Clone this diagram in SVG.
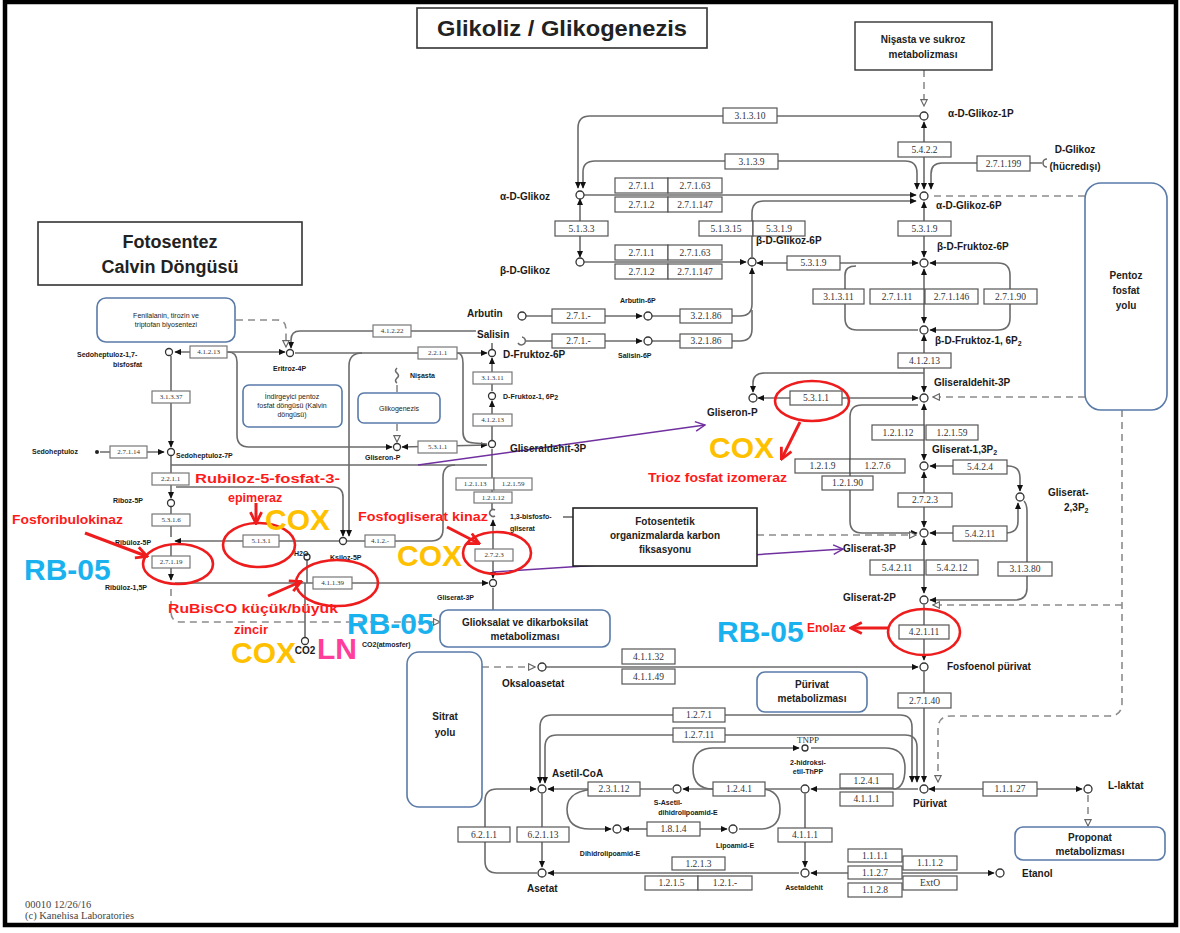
<svg xmlns="http://www.w3.org/2000/svg" width="1180" height="933" viewBox="0 0 1180 933">
<defs>
<style>
.ln{fill:none;stroke:#6b6b6b;stroke-width:1.6}
.dl{fill:none;stroke:#8c8c8c;stroke-width:1.6;stroke-dasharray:7 5}
.ez rect{fill:#fff;stroke:#555;stroke-width:1.2}
.ez text{font-family:"Liberation Serif",serif;font-size:9.5px;fill:#333;text-anchor:middle;dominant-baseline:central}
.ez.s rect{stroke:#777}
.ez.s text{font-size:7px}
.nd{fill:#fff;stroke:#333;stroke-width:1.3}
.lb{font-family:"Liberation Sans",Arial,sans-serif;font-weight:bold;font-size:10px;fill:#1a1a1a}
.sm{font-size:7px}
.bx{fill:#fff;stroke:#5a7aa8;stroke-width:1.6}
.bt{font-family:"Liberation Sans",Arial,sans-serif;font-weight:bold;font-size:10px;fill:#222;text-anchor:middle}
.bt.s{font-size:7px;font-weight:normal}
.red{font-family:"Liberation Sans",Arial,sans-serif;font-weight:bold;fill:#ff1a1a}
.big{font-family:"Liberation Sans",Arial,sans-serif;font-weight:bold;font-size:30px}
.rb{fill:#1ab2ee}
.cx{fill:#ffc000}
.pk{fill:#ff3d9a}
.ell{fill:none;stroke:#ee1c1c;stroke-width:2.6}
.ra{fill:none;stroke:#ee1c1c;stroke-width:3}
.pa{fill:none;stroke:#7030a0;stroke-width:1.4}
</style>
<marker id="a" viewBox="0 0 10 10" refX="9" refY="5" markerWidth="7" markerHeight="7" markerUnits="userSpaceOnUse" orient="auto-start-reverse"><path d="M0,0.5 L10,5 L0,9.5 z" fill="#111"/></marker>
<marker id="o" viewBox="0 0 10 10" refX="9" refY="5" markerWidth="8" markerHeight="8" markerUnits="userSpaceOnUse" orient="auto-start-reverse"><path d="M1,1 L9,5 L1,9 z" fill="#fff" stroke="#666" stroke-width="1.4"/></marker>
<marker id="r" viewBox="0 0 10 10" refX="8" refY="5" markerWidth="14" markerHeight="14" markerUnits="userSpaceOnUse" orient="auto"><path d="M1,1 L9,5 L1,9" fill="none" stroke="#ee1c1c" stroke-width="2"/></marker>
<marker id="p" viewBox="0 0 10 10" refX="9" refY="5" markerWidth="12" markerHeight="12" markerUnits="userSpaceOnUse" orient="auto"><path d="M1,1 L9,5 L1,9" fill="none" stroke="#7030a0" stroke-width="1.2"/></marker>
</defs>
<rect width="1180" height="933" fill="#fff"/>
<rect x="5" y="2" width="1171" height="923" fill="none" stroke="#000" stroke-width="4.5"/>

<!-- title boxes -->
<g id="title"><rect x="417" y="8" width="290" height="40" fill="#fff" stroke="#333" stroke-width="1.6"/><text x="562" y="36" font-family="Liberation Sans, Arial, sans-serif" font-weight="bold" font-size="22" text-anchor="middle" fill="#222" textLength="250" lengthAdjust="spacingAndGlyphs">Glikoliz / Glikogenezis</text></g>
<g id="fotosentez"><rect x="38" y="222" width="264" height="63" fill="#fff" stroke="#333" stroke-width="1.6"/><text x="170" y="248" font-family="Liberation Sans, Arial, sans-serif" font-weight="bold" font-size="18" text-anchor="middle" fill="#222">Fotosentez</text><text x="170" y="273" font-family="Liberation Sans, Arial, sans-serif" font-weight="bold" font-size="18" text-anchor="middle" fill="#222">Calvin Döngüsü</text></g>

<!-- connectors -->
<g id="connectors">
<path class="dl" d="M924,70 L924,106" marker-end="url(#o)"/>
<path class="ln" d="M920,116 L590,116 Q578,116 578,128 L578,188" marker-end="url(#a)"/>
<path class="ln" d="M583,188 L583,172 Q583,161 595,161 L905,161 Q917,161 917,173 L917,189" marker-start="url(#a)" marker-end="url(#a)"/>
<path class="ln" d="M584,195 L916,195" marker-end="url(#a)"/>
<path class="ln" d="M752,257 L752,213 Q752,201 764,201 L916,201" marker-end="url(#a)"/>
<path class="ln" d="M580,199 L580,257" marker-start="url(#a)" marker-end="url(#a)"/>
<path class="ln" d="M584,262 L746,262" marker-end="url(#a)"/>
<path class="ln" d="M757,263 L918,263" marker-start="url(#a)" marker-end="url(#a)"/>
<path class="ln" d="M526,316 L642,316" marker-end="url(#a)"/>
<path class="ln" d="M652,316 L740,316 Q752,316 752,304 L752,268" marker-end="url(#a)"/>
<path class="ln" d="M525,341 L642,341" marker-end="url(#a)"/>
<path class="ln" d="M652,341 L740,341 Q752,341 752,329 L752,310"/>
<path class="ln" d="M1042,163 L942,163 Q931,163 931,174 L931,189" marker-end="url(#a)"/>
<path class="ln" d="M1047,159 A4,4 0 1 0 1047,167"/>
<path class="ln" d="M924,122 L924,189" marker-start="url(#a)" marker-end="url(#a)"/>
<path class="ln" d="M924,202 L924,257" marker-start="url(#a)" marker-end="url(#a)"/>
<path class="ln" d="M924,269 L924,323" marker-start="url(#a)" marker-end="url(#a)"/>
<path class="ln" d="M930,263 L998,263 Q1010,263 1010,275 L1010,318 Q1010,330 998,330 L930,330" marker-start="url(#a)" marker-end="url(#a)"/>
<path class="ln" d="M918,330 L857,330 Q845,330 845,318 L845,275 Q845,266 856,266"/>
<path class="ln" d="M924,335 L924,392" marker-start="url(#a)" marker-end="url(#a)"/>
<path class="ln" d="M924,373 L765,373 Q753,373 753,383 L753,392" marker-end="url(#a)"/>
<path class="ln" d="M758,398 L918,398" marker-start="url(#a)" marker-end="url(#a)"/>
<path class="ln" d="M924,404 L924,460" marker-start="url(#a)" marker-end="url(#a)"/>
<path class="ln" d="M918,405 L862,405 Q850,405 850,417 L850,521 Q850,533 862,533 L917,533" marker-end="url(#a)"/>
<path class="ln" d="M924,472 L924,527" marker-start="url(#a)" marker-end="url(#a)"/>
<path class="ln" d="M930,466 L1008,466 Q1020,466 1020,478 L1020,491" marker-start="url(#a)" marker-end="url(#a)"/>
<path class="ln" d="M930,533 L1006,533 Q1018,533 1018,521 L1018,503" marker-start="url(#a)" marker-end="url(#a)"/>
<path class="ln" d="M930,600 L1015,600 Q1027,600 1027,588 L1027,512 Q1027,504 1024,501" marker-start="url(#a)"/>
<path class="ln" d="M924,539 L924,593" marker-start="url(#a)" marker-end="url(#a)"/>
<path class="ln" d="M924,605 L924,660" marker-end="url(#a)"/>
<path class="ln" d="M924,672 L924,782" marker-end="url(#a)"/>
<path class="dl" d="M1085,397 L933,397" marker-end="url(#o)"/>
<path class="dl" d="M1085,196 L934,196"/>
<path class="dl" d="M1122,410 L1122,703 Q1122,716 1109,716 L951,716 Q938,716 938,729 L938,782" marker-end="url(#o)"/>
<path class="dl" d="M1122,605 L933,605" marker-end="url(#o)"/>
<path class="dl" d="M757,535 L916,535" marker-end="url(#o)"/>
<path class="dl" d="M482,667 L535,667" marker-end="url(#o)"/>
<path class="ln" d="M546,667 L918,667" marker-end="url(#a)"/>
<path class="ln" d="M540,783 L540,727 Q540,715 552,715 L900,715 Q912,715 912,727 L912,782" marker-start="url(#a)" marker-end="url(#a)"/>
<path class="ln" d="M545,783 L545,747 Q545,735 557,735 L905,735 Q917,735 917,747 L917,782" marker-start="url(#a)" marker-end="url(#a)"/>
<path class="ln" d="M918,789 L811,789" marker-end="url(#a)"/>
<path class="ln" d="M800,789 L683,789" marker-end="url(#a)"/>
<path class="ln" d="M672,789 L548,789" marker-end="url(#a)"/>
<path class="ln" d="M765,789 L713,789 Q693,789 693,769 Q693,748 713,748 L799,748" marker-end="url(#a)"/>
<path class="ln" d="M811,748 L885,748 Q905,748 905,768 Q905,789 893,789"/>
<path class="ln" d="M600,789 Q567,789 567,809 Q567,829 590,829 L611,829" marker-end="url(#a)"/>
<path class="ln" d="M647,829 L623,829" marker-end="url(#a)"/>
<path class="ln" d="M700,829 L727,829" marker-end="url(#a)"/>
<path class="ln" d="M739,829 L760,829 Q780,829 780,809 Q780,789 760,789"/>
<path class="ln" d="M537,873 L497,873 Q485,873 485,861 L485,801 Q485,789 497,789 L536,789" marker-end="url(#a)"/>
<path class="ln" d="M542,794 L542,867" marker-end="url(#a)"/>
<path class="ln" d="M799,873 L548,873" marker-end="url(#a)"/>
<path class="ln" d="M805,794 L805,867" marker-end="url(#a)"/>
<path class="ln" d="M811,873 L994,873" marker-start="url(#a)" marker-end="url(#a)"/>
<path class="ln" d="M929,789 L1082,789" marker-start="url(#a)" marker-end="url(#a)"/>
<path class="dl" d="M1088,795 L1088,826" marker-end="url(#o)"/>
<!-- middle -->
<path class="ln" d="M492,440 L492,401" marker-end="url(#a)"/>
<path class="ln" d="M492,391 L492,358" marker-end="url(#a)"/>
<path class="ln" d="M492,343 L492,349"/>
<path class="ln" d="M492,449 L492,509"/>
<path class="ln" d="M493,578 L493,520" marker-start="url(#a)" marker-end="url(#a)"/>
<path class="ln" d="M493,588 L493,610"/>
<path class="ln" d="M175,583 L488,583" marker-end="url(#a)"/>
<path class="ln" d="M175,541 L339,541" marker-start="url(#a)"/>
<path class="ln" d="M347,541 L431,541 Q443,541 443,529 L443,477 Q443,465 455,465"/>
<path class="ln" d="M171,465 L487,465"/>
<path class="ln" d="M176,487 L333,487 Q343,487 343,497 L343,536" marker-end="url(#a)"/>
<path class="ln" d="M362,353 Q349,353 349,366 L349,536" marker-end="url(#a)"/>
<path class="ln" d="M228,352 L175,352" marker-end="url(#a)"/>
<path class="ln" d="M228,352 L285,352" marker-end="url(#a)"/>
<path class="ln" d="M295,353 L487,353" marker-end="url(#a)"/>
<path class="ln" d="M228,352 Q237,352 237,362 L237,435 Q237,447 249,447 L392,447" marker-end="url(#a)"/>
<path class="ln" d="M402,447 L487,445" marker-start="url(#a)" marker-end="url(#a)"/>
<path class="ln" d="M457,353 Q463,353 463,363 L463,432 Q463,443 474,443 L487,444"/>
<path class="ln" d="M476,331 L300,331 Q291,331 291,340 L291,348" marker-end="url(#a)"/>
<path class="dl" d="M236,320 L277,320 Q286,320 286,329 L286,347" marker-end="url(#o)"/>
<path class="ln" d="M397,368 q-3,3 0,5 q3,3 0,5 q-3,3 0,5"/>
<path class="dl" d="M397,385 L397,393"/>
<path class="dl" d="M397,424 L397,442" marker-end="url(#o)"/>
<path class="ln" d="M171,356 L171,447" marker-end="url(#a)"/>
<path class="ln" d="M100,452 L164,452" marker-end="url(#a)"/>
<path class="ln" d="M171,456 L171,498" marker-end="url(#a)"/>
<path class="ln" d="M171,507 L171,537"/>
<path class="ln" d="M171,545 L171,580" marker-end="url(#a)"/>
<path class="dl" d="M171,589 L171,612 Q171,622 181,622 L440,622" marker-end="url(#o)"/>
<path class="ln" d="M305,637 L305,583"/>
<path class="ln" d="M307,560 L307,583"/>
<path class="ln" d="M563,517 L573,517"/>
<path class="pa" d="M418,465 L705,425" marker-end="url(#p)"/>
<path class="pa" d="M493,572 L843,549" marker-end="url(#p)"/>
</g>

<!-- map boxes -->
<g id="nisasta"><rect x="855" y="22" width="137" height="48" fill="#fff" stroke="#333" stroke-width="1.4"/><text class="bt" x="923" y="43">Nişasta  ve sukroz</text><text class="bt" x="923" y="58">metabolizması</text></g>
<g id="pentoz"><rect class="bx" x="1085" y="183" width="82" height="227" rx="16"/><text class="bt" x="1126" y="279">Pentoz</text><text class="bt" x="1126" y="294">fosfat</text><text class="bt" x="1126" y="309">yolu</text></g>
<g id="fenilalanin"><rect class="bx" x="97" y="298" width="138" height="44" rx="9"/><text class="bt s" x="166" y="318">Fenilalanin, tirozin ve</text><text class="bt s" x="166" y="327">triptofan biyosentezi</text></g>
<g id="indirgeyici"><rect class="bx" x="243" y="385" width="99" height="42" rx="6"/><text class="bt s" x="292" y="399">İndirgeyici pentoz</text><text class="bt s" x="292" y="408">fosfat döngüsü (Kalvin</text><text class="bt s" x="292" y="417">döngüsü)</text></g>
<g id="glikogenezis"><rect class="bx" x="358" y="393" width="82" height="30" rx="6"/><text class="bt s" x="399" y="411">Glikogenezis</text></g>
<g id="fotosentetik"><rect x="573" y="508" width="184" height="58" fill="#fff" stroke="#222" stroke-width="1.6"/><text class="bt" x="665" y="525">Fotosentetik</text><text class="bt" x="665" y="539">organizmalarda  karbon</text><text class="bt" x="665" y="553">fiksasyonu</text></g>
<g id="glioksalat"><rect class="bx" x="440" y="610" width="170" height="37" rx="8"/><text class="bt" x="525" y="626">Glioksalat ve dikarboksilat</text><text class="bt" x="525" y="640">metabolizması</text></g>
<g id="sitrat"><rect class="bx" x="407" y="652" width="75" height="155" rx="12"/><text class="bt" x="445" y="720">Sitrat</text><text class="bt" x="445" y="736">yolu</text></g>
<g id="purivatmet"><rect class="bx" x="757" y="672" width="110" height="40" rx="8"/><text class="bt" x="812" y="688">Pürivat</text><text class="bt" x="812" y="702">metabolizması</text></g>
<g id="proponat"><rect class="bx" x="1015" y="827" width="150" height="33" rx="8"/><text class="bt" x="1090" y="841">Proponat</text><text class="bt" x="1090" y="855">metabolizması</text></g>

<!-- enzymes -->
<g id="enzymes">
<g class="ez"><rect x="723" y="108" width="54" height="15"/><text x="750" y="115.5">3.1.3.10</text></g>
<g class="ez"><rect x="725" y="154" width="53" height="15"/><text x="751.5" y="161.5">3.1.3.9</text></g>
<g class="ez"><rect x="615" y="178" width="53" height="15"/><text x="641.5" y="185.5">2.7.1.1</text></g>
<g class="ez"><rect x="668" y="178" width="54" height="15"/><text x="695" y="185.5">2.7.1.63</text></g>
<g class="ez"><rect x="615" y="197" width="53" height="15"/><text x="641.5" y="204.5">2.7.1.2</text></g>
<g class="ez"><rect x="668" y="197" width="54" height="15"/><text x="695" y="204.5">2.7.1.147</text></g>
<g class="ez"><rect x="555" y="221" width="53" height="15"/><text x="581.5" y="228.5">5.1.3.3</text></g>
<g class="ez"><rect x="699" y="221" width="54" height="15"/><text x="726" y="228.5">5.1.3.15</text></g>
<g class="ez"><rect x="753" y="221" width="52" height="15"/><text x="779" y="228.5">5.3.1.9</text></g>
<g class="ez"><rect x="615" y="245" width="53" height="15"/><text x="641.5" y="252.5">2.7.1.1</text></g>
<g class="ez"><rect x="668" y="245" width="54" height="15"/><text x="695" y="252.5">2.7.1.63</text></g>
<g class="ez"><rect x="615" y="264" width="53" height="15"/><text x="641.5" y="271.5">2.7.1.2</text></g>
<g class="ez"><rect x="668" y="264" width="54" height="15"/><text x="695" y="271.5">2.7.1.147</text></g>
<g class="ez"><rect x="787" y="256" width="53" height="14"/><text x="813.5" y="263">5.3.1.9</text></g>
<g class="ez"><rect x="898" y="142" width="53" height="15"/><text x="924.5" y="149.5">5.4.2.2</text></g>
<g class="ez"><rect x="977" y="156" width="53" height="15"/><text x="1003.5" y="163.5">2.7.1.199</text></g>
<g class="ez"><rect x="898" y="221" width="53" height="15"/><text x="924.5" y="228.5">5.3.1.9</text></g>
<g class="ez"><rect x="813" y="289" width="51" height="15"/><text x="838.5" y="296.5">3.1.3.11</text></g>
<g class="ez"><rect x="870" y="289" width="54" height="15"/><text x="897" y="296.5">2.7.1.11</text></g>
<g class="ez"><rect x="925" y="289" width="53" height="15"/><text x="951.5" y="296.5">2.7.1.146</text></g>
<g class="ez"><rect x="984" y="289" width="53" height="15"/><text x="1010.5" y="296.5">2.7.1.90</text></g>
<g class="ez"><rect x="898" y="353" width="53" height="15"/><text x="924.5" y="360.5">4.1.2.13</text></g>
<g class="ez"><rect x="872" y="425" width="52" height="15"/><text x="898" y="432.5">1.2.1.12</text></g>
<g class="ez"><rect x="926" y="425" width="52" height="15"/><text x="952" y="432.5">1.2.1.59</text></g>
<g class="ez"><rect x="790" y="391" width="52" height="14"/><text x="816" y="398">5.3.1.1</text></g>
<g class="ez"><rect x="795" y="459" width="55" height="14"/><text x="822.5" y="466">1.2.1.9</text></g>
<g class="ez"><rect x="850" y="459" width="55" height="14"/><text x="877.5" y="466">1.2.7.6</text></g>
<g class="ez"><rect x="822" y="476" width="51" height="14"/><text x="847.5" y="483">1.2.1.90</text></g>
<g class="ez"><rect x="953" y="460" width="54" height="14"/><text x="980" y="467">5.4.2.4</text></g>
<g class="ez"><rect x="898" y="493" width="54" height="14"/><text x="925" y="500">2.7.2.3</text></g>
<g class="ez"><rect x="953" y="526" width="54" height="15"/><text x="980" y="533.5">5.4.2.11</text></g>
<g class="ez"><rect x="870" y="560" width="54" height="15"/><text x="897" y="567.5">5.4.2.11</text></g>
<g class="ez"><rect x="926" y="560" width="52" height="15"/><text x="952" y="567.5">5.4.2.12</text></g>
<g class="ez"><rect x="998" y="562" width="54" height="14"/><text x="1025" y="569">3.1.3.80</text></g>
<g class="ez"><rect x="899" y="625" width="50" height="14"/><text x="924" y="632">4.2.1.11</text></g>
<g class="ez"><rect x="898" y="693" width="53" height="15"/><text x="924.5" y="700.5">2.7.1.40</text></g>
<g class="ez"><rect x="622" y="649" width="53" height="15"/><text x="648.5" y="656.5">4.1.1.32</text></g>
<g class="ez"><rect x="622" y="669" width="53" height="15"/><text x="648.5" y="676.5">4.1.1.49</text></g>
<g class="ez"><rect x="673" y="708" width="52" height="14"/><text x="699" y="715">1.2.7.1</text></g>
<g class="ez"><rect x="673" y="728" width="52" height="14"/><text x="699" y="735">1.2.7.11</text></g>
<g class="ez"><rect x="588" y="782" width="52" height="14"/><text x="614" y="789">2.3.1.12</text></g>
<g class="ez"><rect x="713" y="782" width="52" height="14"/><text x="739" y="789">1.2.4.1</text></g>
<g class="ez"><rect x="647" y="822" width="53" height="14"/><text x="673.5" y="829">1.8.1.4</text></g>
<g class="ez"><rect x="458" y="827" width="52" height="15"/><text x="484" y="834.5">6.2.1.1</text></g>
<g class="ez"><rect x="517" y="827" width="52" height="15"/><text x="543" y="834.5">6.2.1.13</text></g>
<g class="ez"><rect x="672" y="857" width="53" height="13"/><text x="698.5" y="863.5">1.2.1.3</text></g>
<g class="ez"><rect x="645" y="876" width="53" height="14"/><text x="671.5" y="883">1.2.1.5</text></g>
<g class="ez"><rect x="698" y="876" width="54" height="14"/><text x="725" y="883">1.2.1.-</text></g>
<g class="ez"><rect x="840" y="774" width="53" height="14"/><text x="866.5" y="781">1.2.4.1</text></g>
<g class="ez"><rect x="840" y="792" width="53" height="14"/><text x="866.5" y="799">4.1.1.1</text></g>
<g class="ez"><rect x="983" y="782" width="54" height="14"/><text x="1010" y="789">1.1.1.27</text></g>
<g class="ez"><rect x="778" y="828" width="54" height="14"/><text x="805" y="835">4.1.1.1</text></g>
<g class="ez"><rect x="848" y="849" width="54" height="13"/><text x="875" y="855.5">1.1.1.1</text></g>
<g class="ez"><rect x="848" y="866" width="54" height="13"/><text x="875" y="872.5">1.1.2.7</text></g>
<g class="ez"><rect x="848" y="883" width="54" height="14"/><text x="875" y="890">1.1.2.8</text></g>
<g class="ez"><rect x="903" y="856" width="54" height="14"/><text x="930" y="863">1.1.1.2</text></g>
<g class="ez"><rect x="903" y="876" width="54" height="14"/><text x="930" y="883">ExtO</text></g>
<g class="ez"><rect x="552" y="309" width="53" height="14"/><text x="578.5" y="316">2.7.1.-</text></g>
<g class="ez"><rect x="680" y="309" width="52" height="14"/><text x="706" y="316">3.2.1.86</text></g>
<g class="ez"><rect x="552" y="334" width="53" height="14"/><text x="578.5" y="341">2.7.1.-</text></g>
<g class="ez"><rect x="680" y="334" width="52" height="14"/><text x="706" y="341">3.2.1.86</text></g>
<g class="ez s"><rect x="473" y="372" width="39" height="12"/><text x="492.5" y="378">3.1.3.11</text></g>
<g class="ez s"><rect x="473" y="414" width="39" height="12"/><text x="492.5" y="420">4.1.2.13</text></g>
<g class="ez s"><rect x="456" y="478" width="38" height="12"/><text x="475" y="484">1.2.1.13</text></g>
<g class="ez s"><rect x="494" y="478" width="38" height="12"/><text x="513" y="484">1.2.1.59</text></g>
<g class="ez s"><rect x="474" y="492" width="38" height="11"/><text x="493" y="497.5">1.2.1.12</text></g>
<g class="ez s"><rect x="475" y="549" width="38" height="12"/><text x="494" y="555">2.7.2.3</text></g>
<g class="ez s"><rect x="418" y="441" width="39" height="12"/><text x="437.5" y="447">5.3.1.1</text></g>
<g class="ez s"><rect x="418" y="347" width="39" height="12"/><text x="437.5" y="353">2.2.1.1</text></g>
<g class="ez s"><rect x="373" y="325" width="38" height="12"/><text x="392" y="331">4.1.2.22</text></g>
<g class="ez s"><rect x="190" y="346" width="37" height="12"/><text x="208.5" y="352">4.1.2.13</text></g>
<g class="ez s"><rect x="152" y="391" width="38" height="12"/><text x="171" y="397">3.1.3.37</text></g>
<g class="ez s"><rect x="110" y="446" width="37" height="12"/><text x="128.5" y="452">2.7.1.14</text></g>
<g class="ez s"><rect x="152" y="473" width="37" height="12"/><text x="170.5" y="479">2.2.1.1</text></g>
<g class="ez s"><rect x="152" y="514" width="38" height="12"/><text x="171" y="520">5.3.1.6</text></g>
<g class="ez s"><rect x="243" y="535" width="36" height="12"/><text x="261" y="541">5.1.3.1</text></g>
<g class="ez s"><rect x="152" y="556" width="38" height="12"/><text x="171" y="562">2.7.1.19</text></g>
<g class="ez s"><rect x="313" y="577" width="39" height="12"/><text x="332.5" y="583">4.1.1.39</text></g>
<g class="ez s"><rect x="365" y="535" width="30" height="12"/><text x="380" y="541">4.1.2.-</text></g>
</g>

<!-- compounds -->
<g id="c_aglikoz1p"><circle class="nd" cx="924" cy="116" r="4"/><text class="lb" x="948" y="117">α-D-Glikoz-1P</text></g>
<g id="c_dglikoz"><text class="lb" x="1075" y="153" text-anchor="middle">D-Glikoz</text><text class="lb" x="1075" y="170" text-anchor="middle">(hücredışı)</text></g>
<g id="c_aglikoz"><circle class="nd" cx="580" cy="195" r="4"/><text class="lb" x="525" y="200" text-anchor="middle">α-D-Glikoz</text></g>
<g id="c_aglikoz6p"><circle class="nd" cx="924" cy="196" r="4"/><text class="lb" x="936" y="209">α-D-Glikoz-6P</text></g>
<g id="c_bglikoz"><circle class="nd" cx="580" cy="262" r="4"/><text class="lb" x="525" y="274" text-anchor="middle">β-D-Glikoz</text></g>
<g id="c_bglikoz6p"><circle class="nd" cx="752" cy="262" r="4"/><text class="lb" x="756" y="244">β-D-Glikoz-6P</text></g>
<g id="c_bfruktoz6p"><circle class="nd" cx="924" cy="263" r="4"/><text class="lb" x="937" y="250">β-D-Fruktoz-6P</text></g>
<g id="c_bfruktoz16p"><circle class="nd" cx="924" cy="330" r="4"/><text class="lb" x="935" y="344">β-D-Fruktoz-1, 6P<tspan font-size="7" dy="2">2</tspan></text></g>
<g id="c_gliseraldehit"><circle class="nd" cx="924" cy="398" r="4"/><text class="lb" x="934" y="386">Gliseraldehit-3P</text></g>
<g id="c_gliseron"><circle class="nd" cx="753" cy="398" r="4"/><text class="lb" x="707" y="416">Gliseron-P</text></g>
<g id="c_gliserat13"><circle class="nd" cx="924" cy="466" r="4"/><text class="lb" x="932" y="453">Gliserat-1,3P<tspan font-size="7" dy="2">2</tspan></text></g>
<g id="c_gliserat23"><circle class="nd" cx="1020" cy="497" r="4"/><text class="lb" x="1048" y="496">Gliserat-</text><text class="lb" x="1064" y="511">2,3P<tspan font-size="7" dy="2">2</tspan></text></g>
<g id="c_gliserat3p"><circle class="nd" cx="924" cy="533" r="4"/><text class="lb" x="843" y="552">Gliserat-3P</text></g>
<g id="c_gliserat2p"><circle class="nd" cx="924" cy="600" r="4"/><text class="lb" x="843" y="601">Gliserat-2P</text></g>
<g id="c_pep"><circle class="nd" cx="924" cy="667" r="4"/><text class="lb" x="947" y="670">Fosfoenol pürivat</text></g>
<g id="c_purivat"><circle class="nd" cx="924" cy="789" r="4"/><text class="lb" x="913" y="807">Pürivat</text></g>
<g id="c_laktat"><circle class="nd" cx="1088" cy="789" r="4"/><text class="lb" x="1108" y="789">L-laktat</text></g>
<g id="c_oksalo"><circle class="nd" cx="542" cy="667" r="4"/><text class="lb" x="502" y="687">Oksaloasetat</text></g>
<g id="c_asetilcoa"><circle class="nd" cx="542" cy="789" r="4"/><text class="lb" x="552" y="777">Asetil-CoA</text></g>
<g id="c_sasetil"><circle class="nd" cx="677" cy="789" r="4"/><text class="lb sm" x="668" y="805" text-anchor="middle">S-Asetil-</text><text class="lb sm" x="688" y="815" text-anchor="middle">dihidrolipoamid-E</text></g>
<g id="c_hidroksi"><circle class="nd" cx="805" cy="789" r="4"/><text class="lb sm" x="808" y="765" text-anchor="middle">2-hidroksi-</text><text class="lb sm" x="808" y="774" text-anchor="middle">etil-ThPP</text></g>
<g id="c_tnpp"><circle class="nd" cx="805" cy="748" r="3"/><text x="808" y="743" font-family="Liberation Serif, serif" font-size="9" fill="#333" text-anchor="middle">TNPP</text></g>
<g id="c_dihidro"><circle class="nd" cx="617" cy="829" r="4"/><text class="lb sm" x="610" y="856" text-anchor="middle">Dihidrolipoamid-E</text></g>
<g id="c_lipo"><circle class="nd" cx="733" cy="829" r="4"/><text class="lb sm" x="735" y="848" text-anchor="middle">Lipoamid-E</text></g>
<g id="c_asetat"><circle class="nd" cx="542" cy="873" r="4"/><text class="lb" x="527" y="892">Asetat</text></g>
<g id="c_asetaldehit"><circle class="nd" cx="805" cy="873" r="4"/><text class="lb sm" x="804" y="890" text-anchor="middle">Asetaldehit</text></g>
<g id="c_etanol"><circle class="nd" cx="1000" cy="873" r="4"/><text class="lb" x="1022" y="877">Etanol</text></g>
<g id="c_arbutin"><circle class="nd" cx="522" cy="316" r="4"/><text class="lb" x="467" y="317" font-size="11">Arbutin</text></g>
<g id="c_salisin"><path class="ln" d="M522,337 A4,4 0 1 1 518,343"/><text class="lb" x="477" y="338" font-size="11">Salisin</text></g>
<g id="c_arbutin6p"><circle class="nd" cx="648" cy="316" r="4"/><text class="lb sm" x="620" y="303">Arbutin-6P</text></g>
<g id="c_salisin6p"><circle class="nd" cx="648" cy="341" r="4"/><text class="lb sm" x="618" y="358">Salisin-6P</text></g>
<g id="c_dfruktoz6p"><circle class="nd" cx="492" cy="353" r="3.5"/><text class="lb" x="503" y="358">D-Fruktoz-6P</text></g>
<g id="c_dfruktoz16p"><circle class="nd" cx="492" cy="396" r="3.5"/><text class="lb sm" x="503" y="399">D-Fruktoz-1, 6P<tspan dy="1">2</tspan></text></g>
<g id="c_gliseraldehit_m"><circle class="nd" cx="492" cy="444" r="3.5"/><text class="lb" x="510" y="452">Gliseraldehit-3P</text></g>
<g id="c_bisfosfo"><path class="ln" d="M495,510 A3.5,3.5 0 1 0 495,516"/><text class="lb sm" x="510" y="519">1,3-bisfosfo-</text><text class="lb sm" x="510" y="531">gliserat</text></g>
<g id="c_gliserat3p_m"><circle class="nd" cx="493" cy="583" r="3.5"/><text class="lb sm" x="437" y="600">Gliserat-3P</text></g>
<g id="c_gliseron_m"><circle class="nd" cx="397" cy="447" r="3.5"/><text class="lb sm" x="365" y="460">Gliseron-P</text></g>
<g id="c_nisasta"><text class="lb sm" x="410" y="378">Nişasta</text></g>
<g id="c_eritroz"><circle class="nd" cx="290" cy="353" r="3.5"/><text class="lb sm" x="273" y="371">Eritroz-4P</text></g>
<g id="c_ksiloz"><circle class="nd" cx="343" cy="541" r="3.5"/><text class="lb sm" x="330" y="560">Ksiloz-5P</text></g>
<g id="c_h2o"><circle class="nd" cx="307" cy="557" r="3"/><text class="lb sm" x="294" y="556" font-weight="normal">H2O</text></g>
<g id="c_co2"><circle class="nd" cx="305" cy="641" r="3.5"/><text class="lb" x="305" y="654" font-size="5.5" font-weight="normal" text-anchor="middle">CO2</text><text class="lb sm" x="362" y="647">CO2(atmosfer)</text></g>
<g id="c_sedo17"><circle class="nd" cx="169" cy="352" r="3.5"/><text class="lb sm" x="77" y="357">Sedoheptuloz-1,7-</text><text class="lb sm" x="113" y="367">bisfosfat</text></g>
<g id="c_sedo"><circle cx="97" cy="452" r="2" fill="#222"/><text class="lb sm" x="32" y="454">Sedoheptuloz</text></g>
<g id="c_sedo7p"><circle class="nd" cx="171" cy="452" r="3.5"/><text class="lb sm" x="176" y="458">Sedoheptuloz-7P</text></g>
<g id="c_riboz5p"><circle class="nd" cx="171" cy="503" r="3.5"/><text class="lb sm" x="113" y="503">Riboz-5P</text></g>
<g id="c_ribuloz5p"><text class="lb sm" x="115" y="545">Ribüloz-5P</text></g>
<g id="c_ribuloz15p"><text class="lb sm" x="105" y="590">Ribüloz-1,5P</text></g>

<!-- annotations -->
<g id="annotations">
<ellipse class="ell" cx="178" cy="564" rx="35" ry="20"/>
<ellipse class="ell" cx="259" cy="545" rx="36" ry="22"/>
<ellipse class="ell" cx="337" cy="583" rx="41" ry="23"/>
<ellipse class="ell" cx="497" cy="553" rx="34" ry="21"/>
<ellipse class="ell" cx="812" cy="401" rx="37" ry="20"/>
<ellipse class="ell" cx="924" cy="632" rx="36" ry="23"/>
<path class="ra" d="M85,533 L146,556" marker-end="url(#r)"/>
<path class="ra" d="M256,503 L256,522" marker-end="url(#r)"/>
<path class="ra" d="M447,527 L478,543" marker-end="url(#r)"/>
<path class="ra" d="M268,596 L300,582" marker-end="url(#r)"/>
<path class="ra" d="M800,422 L782,458" marker-end="url(#r)"/>
<path class="ra" d="M888,628 L852,628" marker-end="url(#r)"/>
<text class="red" x="12" y="524" font-size="12" textLength="111" lengthAdjust="spacingAndGlyphs">Fosforibulokinaz</text>
<text class="red" x="195" y="483" font-size="12.5" textLength="145" lengthAdjust="spacingAndGlyphs">Rubiloz-5-fosfat-3-</text>
<text class="red" x="228" y="502" font-size="12.5">epimeraz</text>
<text class="red" x="358" y="521" font-size="12" textLength="130" lengthAdjust="spacingAndGlyphs">Fosfogliserat  kinaz</text>
<text class="red" x="168" y="613" font-size="13" textLength="170" lengthAdjust="spacingAndGlyphs">RuBisCO  küçük/büyük</text>
<text class="red" x="234" y="634" font-size="13">zincir</text>
<text class="red" x="648" y="482" font-size="12" textLength="139" lengthAdjust="spacingAndGlyphs">Trioz fosfat izomeraz</text>
<text class="red" x="807" y="632" font-size="12">Enolaz</text>
<text class="big rb" x="24" y="580">RB-05</text>
<text class="big rb" x="347" y="634">RB-05</text>
<text class="big rb" x="717" y="642">RB-05</text>
<text class="big cx" x="265" y="530">COX</text>
<text class="big cx" x="397" y="566">COX</text>
<text class="big cx" x="231" y="663">COX</text>
<text class="big pk" x="317" y="659">LN</text>
<text class="big cx" x="709" y="458">COX</text>
</g>
<g id="footer"><text x="25" y="908" font-family="Liberation Serif, serif" font-size="10.5" fill="#444">00010 12/26/16</text><text x="25" y="919" font-family="Liberation Serif, serif" font-size="10.5" fill="#444">(c) Kanehisa Laboratories</text></g>
</svg>
